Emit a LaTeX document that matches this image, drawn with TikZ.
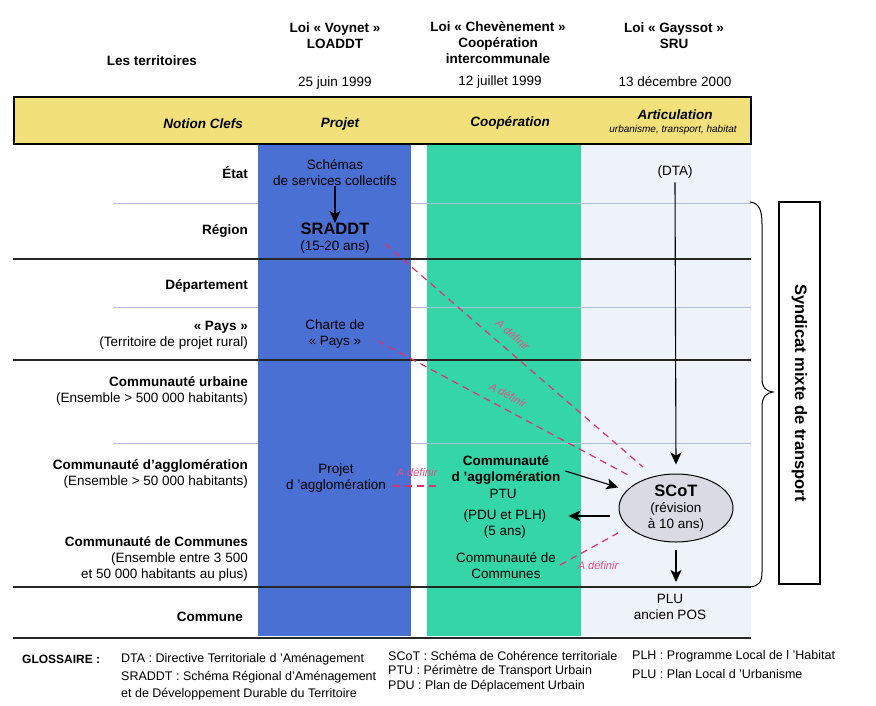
\documentclass[tikz,border=0pt]{standalone}
\usepackage{fontspec}
\setmainfont{Liberation Sans}
\usetikzlibrary{arrows.meta,shapes.geometric}
\definecolor{bandyellow}{HTML}{F2E07A}
\definecolor{colblue}{HTML}{4A70D4}
\definecolor{colgreen}{HTML}{34D6A8}
\definecolor{collight}{HTML}{EEF3FA}
\definecolor{redline}{HTML}{E2306C}
\definecolor{gridlight}{HTML}{B3BDD9}
\definecolor{scotfill}{HTML}{DADAE4}
\begin{document}
\begin{tikzpicture}[x=1pt,y=-1pt,
  tx/.style={font=\fontsize{13.5}{16}\selectfont, align=center, inner sep=0pt},
  bx/.style={font=\fontsize{13.5}{16}\selectfont\bfseries, align=center, inner sep=0pt},
  lft/.style={font=\fontsize{13.5}{16}\selectfont, align=right, anchor=east, inner sep=0pt},
  bi/.style={font=\fontsize{13.5}{16}\selectfont\bfseries\itshape, inner sep=0pt},
  gl/.style={font=\fontsize{12.5}{15}\selectfont, anchor=west, inner sep=0pt},
  arr/.style={-{Stealth[length=12pt,width=11pt,inset=3pt]}, line width=1.1pt},
  dline/.style={draw=redline, line width=1.2pt, dash pattern=on 7pt off 5pt},
  deflbl/.style={font=\fontsize{11}{13}\selectfont\itshape, text=redline!85, inner sep=0pt},
  hline/.style={line width=1.1pt, draw=black!85},
  lline/.style={line width=0.8pt, draw=gridlight}
]
\useasboundingbox (0,0) rectangle (876,705);
\fill[white] (0,0) rectangle (876,705);
% columns
\fill[colblue] (258,144) rectangle (411,636);
\fill[colgreen] (427,144) rectangle (581,636);
\fill[collight] (581,144) rectangle (751,636);
% light separators
\foreach \yy in {203,307,443} {
  \draw[lline] (113,\yy) -- (258,\yy);
  \draw[lline] (411,\yy) -- (751,\yy);
}
% solid separators
\foreach \yy in {259,360,587,638} \draw[hline] (13,\yy) -- (751,\yy);
% band
\draw[line width=1.1pt, fill=bandyellow] (14,97) rectangle (751,144);

% headers
\node[bx] (territoires) at (152,61) {Les territoires};
\node[bx] (voynet) at (335,35.5) {Loi « Voynet »\\LOADDT};
\node[bx] (chev) at (498,43) {Loi « Chevènement »\\Coopération\\intercommunale};
\node[bx] (gayssot) at (674,35.5) {Loi « Gayssot »\\SRU};
\node[tx] (dvoynet) at (335,83) {25 juin 1999};
\node[tx] (dchev) at (500,82) {12 juillet 1999};
\node[tx] (dgayssot) at (675,82) {13 décembre 2000};

% band labels
\node[bi, anchor=east] (notion) at (243,124) {Notion Clefs};
\node[bi] (projet) at (340,124) {Projet};
\node[bi] (coop) at (510,123) {Coopération};
\node[bi] (artic) at (675,115) {Articulation};
\node[font=\fontsize{10}{12}\selectfont\itshape, inner sep=0pt] (urb) at (673,130) {urbanisme, transport, habitat};

% left labels
\node[lft] (etat) at (248,173) {\bfseries État};
\node[lft] (region) at (248,231) {\bfseries Région};
\node[lft] (dept) at (248,286) {\bfseries Département};
\node[lft] (pays) at (248,335) {\textbf{« Pays »}\\(Territoire de projet rural)};
\node[lft] (cu) at (248,391) {\textbf{Communauté urbaine}\\(Ensemble > 500 000 habitants)};
\node[lft] (ca) at (248,474) {\textbf{Communauté d'agglomération}\\(Ensemble > 50 000 habitants)};
\node[lft] (cc) at (248,559) {\textbf{Communauté de Communes}\\(Ensemble entre 3 500\\et 50 000 habitants au plus)};
\node[lft] (commune) at (243,617) {\bfseries Commune};

% blue column
\node[tx] (schemas) at (335,172.5) {Schémas\\de services collectifs};
\node[font=\fontsize{16.5}{18}\selectfont\bfseries, inner sep=0pt] (sraddt) at (335,229) {SRADDT};
\node[tx] (duree) at (335,247) {(15-20 ans)};
\node[tx] (charte) at (335,334.5) {Charte de\\« Pays »};
\node[tx] (projagg) at (336,478) {Projet\\d 'agglomération};

% green column
\node[bx] (agglo) at (506,469.5) {Communauté\\d 'agglomération};
\node[tx] (ptu) at (503,494) {PTU};
\node[tx] (pdu) at (505,516) {(PDU et PLH)};
\node[tx] (cinq) at (505,532) {(5 ans)};
\node[tx] (ccg) at (506,565.5) {Communauté de\\Communes};

% light column
\node[tx] (dta) at (675,172) {(DTA)};
\node[ellipse, draw, line width=1pt, fill=scotfill, minimum width=114pt, minimum height=68pt, inner sep=0pt, align=center, font=\fontsize{13.5}{16}\selectfont] (scot) at (676,508) {{\fontsize{16.5}{18}\selectfont\bfseries SCoT}\\(révision\\à 10 ans)};
\node[tx] (plu) at (670,606.5) {PLU\\ancien POS};
\coordinate (pluarr) at (676,582);

% arrows
\draw[arr] (schemas.south) -- (sraddt.north);
\draw[arr] ([yshift=-4pt]dta.south) -- ([yshift=9pt]scot.north);
\draw[arr, shorten <=7pt] (scot.south) -- (pluarr);
\draw[arr, shorten <=5pt, shorten >=9pt] (agglo.east) -- (scot.160);
\draw[arr] ([xshift=-9pt]scot.west |- pdu.east) -- ([xshift=22pt]pdu.east);

% dashed "a definir" links
\coordinate (d1s) at (385,244);
\coordinate (d1e) at (643,467);
\coordinate (d2s) at (378,341);
\coordinate (d2e) at (628,475);
\coordinate (d3s) at (393,486);
\coordinate (d3e) at (437,486);
\coordinate (d4s) at (560,565);
\coordinate (d4e) at (618,533);
\draw[dline] (d1s) -- (d1e);
\draw[dline] (d2s) -- (d2e);
\draw[dline] (d3s) -- (d3e);
\draw[dline] (d4s) -- (d4e);
\node[deflbl, rotate=-41] (l1) at (513,335) {A définir};
\node[deflbl, rotate=-28] (l2) at (508,395) {A définir};
\node[deflbl] (l3) at (417,472) {A définir};
\node[deflbl] (l4) at (598,565) {A définir};

% brace and syndicat
\draw[line width=1pt] (750,202) .. controls (759,203) and (762,210) .. (762,224) -- (762,378)
  .. controls (762,388) and (766,391) .. (773,392)
  .. controls (766,393) and (762,397) .. (762,407) -- (762,572)
  .. controls (762,582) and (759,586) .. (750,587);
\node[draw, line width=1.2pt, rotate=-90, minimum width=382pt, minimum height=41pt, inner sep=0pt, font=\fontsize{16.5}{18}\selectfont\bfseries] (smt) at (799.5,393) {Syndicat mixte de transport};

% glossary
\node[gl, font=\fontsize{12}{14}\selectfont\bfseries] (gloss) at (22,659) {GLOSSAIRE :};
\node[gl] (g1) at (121,659) {DTA : Directive Territoriale d 'Aménagement};
\node[gl] (g2) at (121,677) {SRADDT : Schéma Régional d'Aménagement};
\node[gl] (g3) at (121,694) {et de Développement Durable du Territoire};
\node[gl] (g4) at (388,656) {SCoT : Schéma de Cohérence territoriale};
\node[gl] (g5) at (388,671) {PTU : Périmètre de Transport Urbain};
\node[gl] (g6) at (388,686) {PDU : Plan de Déplacement Urbain};
\node[gl] (g7) at (632,656) {PLH : Programme Local de l 'Habitat};
\node[gl] (g8) at (632,674) {PLU : Plan Local d 'Urbanisme};
\end{tikzpicture}
\end{document}
